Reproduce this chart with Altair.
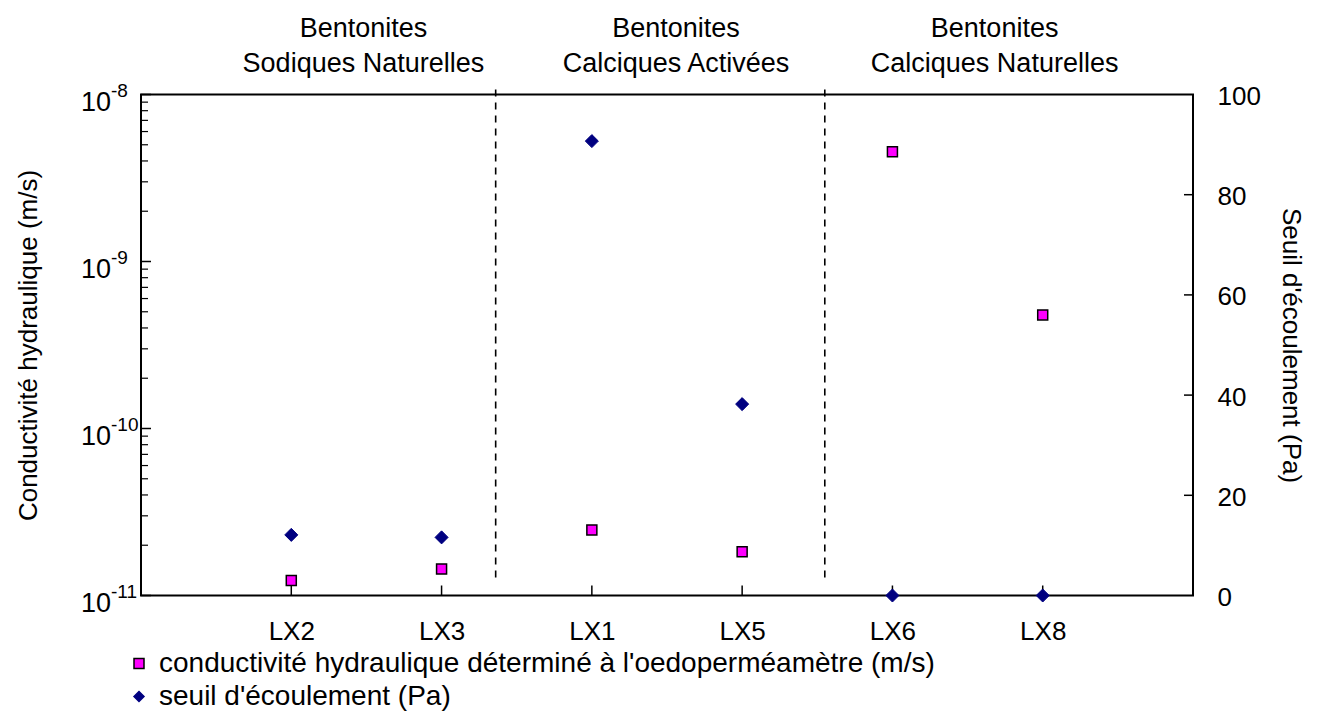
import altair as alt
import pandas as pd

# ---- data ----
categories = ["LX2", "LX3", "LX1", "LX5", "LX6", "LX8"]
conductivite = [1.23e-11, 1.44e-11, 2.47e-11, 1.83e-11, 4.54e-9, 4.79e-10]   # m/s (left, log)
seuil = [12.1, 11.6, 90.7, 38.2, 0.0, 0.0]                                 # Pa (right)
series_names = ["conductivité hydraulique déterminé à l'oedoperméamètre (m/s)",
                "seuil d'écoulement (Pa)"]
group_labels = ["Bentonites\nSodiques Naturelles",
                "Bentonites\nCalciques Activées",
                "Bentonites\nCalciques Naturelles"]
group_pos = [1.48, 3.56, 5.68]
separator_pos = [2.36, 4.55]
log_major = [1e-11, 1e-10, 1e-9, 1e-8]
log_base = ["10", "10", "10", "10"]
log_exp = ["-11", "-10", "-9", "-8"]
log_minor = [m * 10.0 ** e for e in (-11, -10, -9) for m in range(2, 10)]
right_ticks = [0, 20, 40, 60, 80, 100]

W, H = 1052, 501
FONT = "Liberation Sans"
FS = 26

pos = list(range(1, len(categories) + 1))
df = pd.DataFrame({"pos": pos, "cat": categories, "k": conductivite, "s": seuil})
df["s1"] = series_names[0]
df["s2"] = series_names[1]

label_expr = "[" + ",".join(["''"] + [f"'{c}'" for c in categories]) + "][datum.value]"
x_scale = alt.Scale(domain=[0, len(categories) + 1], nice=False, zero=False)
y_log = alt.Scale(type="log", domain=[1e-11, 1e-8], nice=False)
y_lin = alt.Scale(domain=[0, 100], nice=False, zero=True)

x_axis = alt.Axis(values=pos, labelExpr=label_expr, title=None, ticks=False,
                  domain=False, grid=False, labelPadding=23, labelFontSize=FS,
                  labelFont=FONT, labelColor="black")
yl_axis = alt.Axis(orient="left", values=log_major, labels=False,
                   title="Conductivité hydraulique (m/s)", ticks=False, domain=False,
                   grid=False, titleFontSize=FS, titleFont=FONT, titleFontWeight="normal",
                   titleColor="black", titleX=-113, titleY=H / 2, titleAngle=-90,
                   titleAlign="center", titleBaseline="middle")
yr_axis = alt.Axis(orient="right", values=right_ticks, title="Seuil d'écoulement (Pa)",
                   ticks=False, domain=False, grid=False, labelPadding=24, labelOffset=2,
                   labelFontSize=FS, labelFont=FONT, labelColor="black",
                   titleFontSize=FS, titleFont=FONT, titleFontWeight="normal",
                   titleColor="black", titleX=97, titleY=H / 2, titleAngle=90,
                   titleAlign="center", titleBaseline="middle")

fill_scale = alt.Scale(domain=series_names, range=["#FF00FF", "#000080"])
shape_scale = alt.Scale(domain=series_names, range=["square", "diamond"])
stroke_scale = alt.Scale(domain=series_names, range=["#000000", "#000080"])
legend = alt.Legend(title=None, orient="none", legendX=-16, legendY=555,
                    labelFontSize=28, labelFont=FONT, labelColor="black",
                    labelLimit=2000, symbolSize=100, symbolStrokeWidth=1.5,
                    rowPadding=5, labelOffset=6, padding=0, symbolOffset=0)

# separators
sep = alt.Chart(pd.DataFrame({"x": separator_pos})).mark_rule(
    color="black", strokeWidth=1.6, strokeDash=[7, 6]).encode(
    x=alt.X("x:Q", scale=x_scale, axis=x_axis), y=alt.value(-5), y2=alt.value(487))

# group titles
grp = alt.Chart(pd.DataFrame({"x": group_pos, "t": group_labels})).mark_text(
    font=FONT, fontSize=27, lineBreak="\n", lineHeight=35, align="center",
    baseline="middle", color="black").encode(
    x=alt.X("x:Q", scale=x_scale, axis=x_axis), y=alt.value(-65.5), text="t:N")

# bottom inside ticks
xt = alt.Chart(df).mark_rule(color="black", strokeWidth=1.5).encode(
    x=alt.X("pos:Q", scale=x_scale, axis=x_axis), y=alt.value(H), y2=alt.value(H - 10))

# left inside ticks
lmaj = alt.Chart(pd.DataFrame({"v": log_major})).mark_rule(color="black", strokeWidth=1.5).encode(
    y=alt.Y("v:Q", scale=y_log, axis=yl_axis), x=alt.value(0), x2=alt.value(10))
lmin = alt.Chart(pd.DataFrame({"v": log_minor})).mark_rule(color="black", strokeWidth=1.2).encode(
    y=alt.Y("v:Q", scale=y_log, axis=yl_axis), x=alt.value(0), x2=alt.value(7))

# left labels 10^n (base + superscript)
lab_df = pd.DataFrame({"v": log_major, "b": log_base, "e": log_exp})
lbase = alt.Chart(lab_df).mark_text(font=FONT, fontSize=27, align="right", baseline="middle",
                                    dy=8, color="black").encode(
    y=alt.Y("v:Q", scale=y_log, axis=yl_axis), x=alt.value(-30), text="b:N")
lexp = alt.Chart(lab_df).mark_text(font=FONT, fontSize=19, align="left", baseline="middle",
                                   dy=-4, color="black").encode(
    y=alt.Y("v:Q", scale=y_log, axis=yl_axis), x=alt.value(-30), text="e:N")

squares = alt.Chart(df).mark_point(filled=True, size=100, strokeWidth=1.5, opacity=1).encode(
    x=alt.X("pos:Q", scale=x_scale, axis=x_axis),
    y=alt.Y("k:Q", scale=y_log, axis=yl_axis),
    fill=alt.Fill("s1:N", scale=fill_scale, legend=legend),
    shape=alt.Shape("s1:N", scale=shape_scale, legend=legend),
    stroke=alt.Stroke("s1:N", scale=stroke_scale, legend=legend),
)

left_group = alt.layer(sep, grp, xt, lmaj, lmin, lbase, lexp, squares)

rt = alt.Chart(pd.DataFrame({"v": right_ticks[1:-1]})).mark_rule(color="black", strokeWidth=1.5).encode(
    y=alt.Y("v:Q", scale=y_lin, axis=yr_axis), x=alt.value(W - 9), x2=alt.value(W))

diamonds = alt.Chart(df).mark_point(filled=True, size=170, strokeWidth=1, opacity=1).encode(
    x=alt.X("pos:Q", scale=x_scale, axis=x_axis),
    y=alt.Y("s:Q", scale=y_lin, axis=yr_axis),
    fill=alt.Fill("s2:N", scale=fill_scale, legend=legend),
    shape=alt.Shape("s2:N", scale=shape_scale, legend=legend),
    stroke=alt.Stroke("s2:N", scale=stroke_scale, legend=legend),
)

right_group = alt.layer(rt, diamonds)

chart = alt.layer(left_group, right_group).resolve_scale(y="independent").properties(
    width=W, height=H,
    autosize=alt.AutoSizeParams(type="none"),
    padding={"left": 133, "top": 86.5, "right": 116, "bottom": 124},
    background="white",
).configure(font=FONT).configure_view(stroke="black", strokeWidth=2)

chart.save("out.html", embed_options={"renderer": "svg", "actions": False})
